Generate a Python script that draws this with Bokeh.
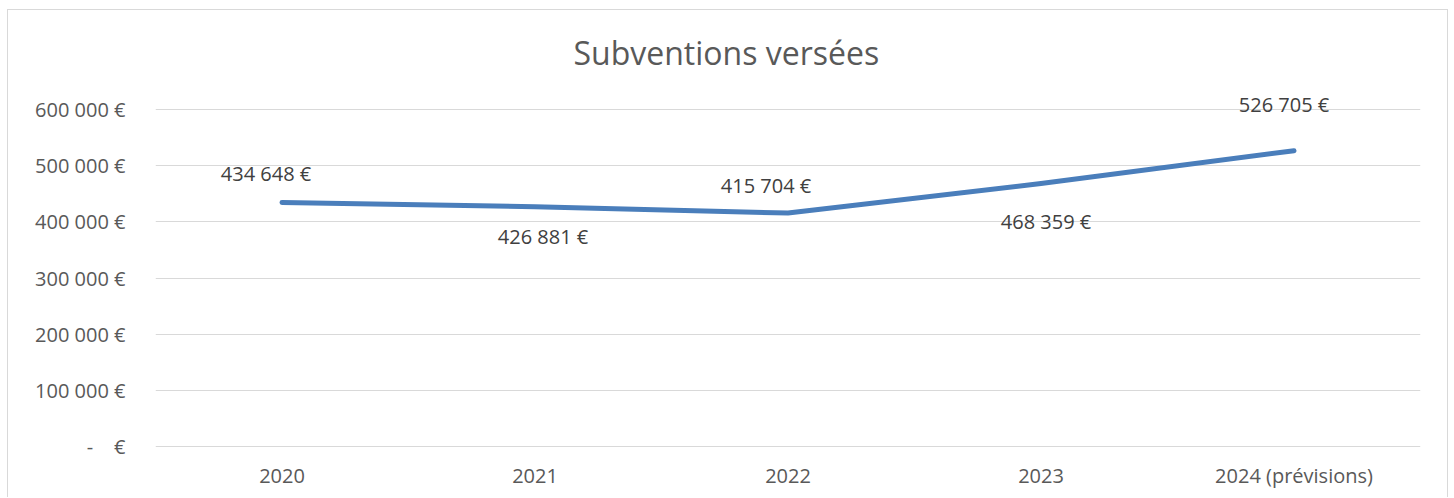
from bokeh.plotting import figure
from bokeh.models import FixedTicker, ColumnDataSource, Range1d
from bokeh.core.properties import value
from bokeh.embed import file_html
from bokeh.resources import INLINE

# ---- data ----
CATEGORIES = ["2020", "2021", "2022", "2023", "2024 (prévisions)"]
VALUES = [434648, 426881, 415704, 468359, 526705]
Y_TICKS = [0, 100000, 200000, 300000, 400000, 500000, 600000]
Y_TICK_LABELS = ["-\u00a0\u00a0\u00a0\u00a0€", "100 000 €", "200 000 €", "300 000 €",
                 "400 000 €", "500 000 €", "600 000 €"]
TITLE = "Subventions versées"

# ---- layout of the data labels (screen px offsets) ----
LABEL_DX = [-16, 8, -22, 5, -10]
LABEL_DY = [-29, 30, -28, 38, -46]


def fmt(v):
    return f"{v:,}".replace(",", " ") + " €"


FONT = "Open Sans"

p = figure(x_range=CATEGORIES, y_range=Range1d(-5357, 650000),
           width=1441, height=488,
           output_backend="svg", toolbar_location=None,
           min_border_left=147, min_border_right=29,
           min_border_top=71, min_border_bottom=49,
           title=TITLE)

p.styles = {"border-top": "1px solid #d9d9d9",
            "border-left": "1px solid #d9d9d9",
            "border-right": "1px solid #d9d9d9",
            "margin-top": "9px", "margin-left": "7px"}

p.title.text_font = FONT
p.title.text_font_size = "32px"
p.title.text_font_style = "normal"
p.title.text_color = "#595959"
p.title.align = "left"
p.title.offset = 418
p.title.standoff = 15

p.outline_line_color = None
p.background_fill_color = "white"
p.border_fill_color = "white"

p.xgrid.grid_line_color = None
p.ygrid.grid_line_color = "#d9d9d9"
p.ygrid.grid_line_width = 1

for ax in (p.xaxis, p.yaxis):
    ax.axis_line_color = None
    ax.major_tick_line_color = None
    ax.minor_tick_line_color = None
    ax.major_tick_out = 0
    ax.major_tick_in = 0
    ax.major_label_text_font = FONT
    ax.major_label_text_font_size = "20px"
    ax.major_label_text_color = "#595959"

p.yaxis.ticker = FixedTicker(ticks=Y_TICKS)
p.yaxis.major_label_overrides = {t: l for t, l in zip(Y_TICKS, Y_TICK_LABELS)}
p.yaxis.major_label_standoff = 30
p.xaxis.major_label_standoff = 12

p.line(CATEGORIES, VALUES, line_width=5, line_color="#4a7ebb",
       line_cap="round", line_join="round")

src = ColumnDataSource(dict(x=CATEGORIES, y=VALUES,
                            label=[fmt(v) for v in VALUES],
                            dx=LABEL_DX, dy=LABEL_DY))
p.text(x="x", y="y", text="label", x_offset="dx", y_offset="dy", source=src,
       text_align="center", text_baseline="middle",
       text_font=value(FONT), text_font_size="20px", text_color="#404040")

open("out.html", "w").write(file_html(p, INLINE))
